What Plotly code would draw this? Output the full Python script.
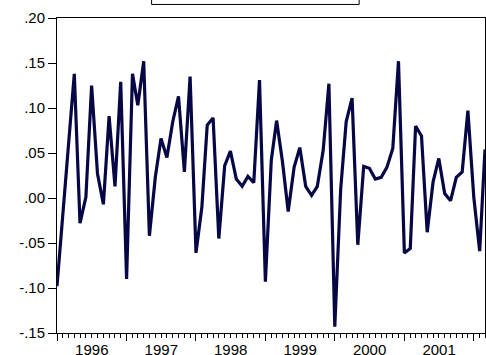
import pandas as pd
import plotly.graph_objects as go

start_month = "1996-01-01"
values = [
    -0.098, -0.022, 0.058, 0.138, -0.028, 0.001, 0.125, 0.027, -0.007, 0.091, 0.013, 0.129,
    -0.090, 0.138, 0.103, 0.152, -0.042, 0.023, 0.066, 0.045, 0.085, 0.113, 0.029, 0.135,
    -0.061, -0.010, 0.081, 0.089, -0.045, 0.036, 0.052, 0.021, 0.013, 0.024, 0.017, 0.131,
    -0.093, 0.042, 0.086, 0.040, -0.015, 0.034, 0.056, 0.013, 0.003, 0.013, 0.053, 0.127,
    -0.143, 0.010, 0.085, 0.111, -0.052, 0.035, 0.033, 0.021, 0.023, 0.034, 0.055, 0.152,
    -0.061, -0.056, 0.080, 0.069, -0.038, 0.018, 0.044, 0.005, -0.003, 0.023, 0.029, 0.097,
    0.001, -0.059, 0.054,
]
ytick_vals = [-0.15, -0.10, -0.05, 0.00, 0.05, 0.10, 0.15, 0.20]
ytick_text = ["-.15", "-.10", "-.05", ".00", ".05", ".10", ".15", ".20"]

dates = pd.date_range(start_month, periods=len(values), freq="MS")

fig = go.Figure()
fig.add_trace(go.Scatter(x=dates, y=values, mode="lines",
                         line=dict(color="#070746", width=3.2), showlegend=False))

font = dict(family="Liberation Sans, Arial, sans-serif", size=15, color="black")

fig.update_layout(
    width=486, height=355,
    margin=dict(l=57, r=1, t=18, b=22),
    paper_bgcolor="white", plot_bgcolor="white",
    font=font,
    xaxis=dict(
        type="date", automargin=False,
        range=[dates[0], dates[-1]],
        tick0=start_month, dtick="M12",
        tickformat="%Y", ticklabelmode="period",
        ticks="outside", ticklen=7, tickcolor="black", tickwidth=1,
        ticklabelstandoff=-4,
        minor=dict(dtick="M1", ticks="outside", ticklen=4, tickcolor="black", tickwidth=1),
        showgrid=False, zeroline=False,
        showline=True, linecolor="black", linewidth=1, mirror=True,
        tickfont=font,
    ),
    yaxis=dict(
        automargin=False,
        range=[-0.15, 0.20],
        tickmode="array", tickvals=ytick_vals, ticktext=ytick_text,
        ticks="outside", ticklen=8, tickcolor="black", tickwidth=1,
        showgrid=False, zeroline=False,
        showline=True, linecolor="black", linewidth=1, mirror=True,
        tickfont=font,
    ),
    shapes=[dict(type="rect", xref="paper", yref="paper",
                 x0=0.221, x1=0.706, y0=1.043, y1=1.2,
                 line=dict(color="black", width=1), fillcolor="white", layer="above")],
)

fig.write_html("out.html")
